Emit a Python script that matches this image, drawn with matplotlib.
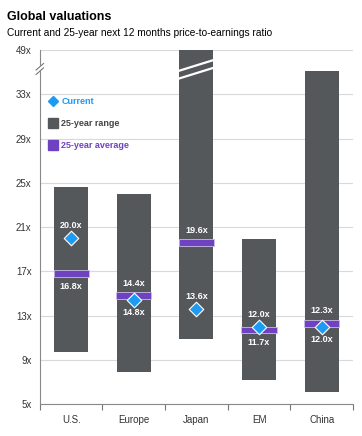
import matplotlib.pyplot as plt
from matplotlib.lines import Line2D

plt.rcParams['font.family'] = ['Liberation Sans', 'DejaVu Sans']

# data
regions = ['U.S.', 'Europe', 'Japan', 'EM', 'China']
range_low = [9.7, 7.9, 10.9, 7.2, 6.1]
range_high = [24.6, 24.0, 49.0, 19.9, 35.1]
current = [20.0, 14.4, 13.6, 12.0, 12.0]
average = [16.8, 14.8, 19.6, 11.7, 12.3]
ytick_vals = [5, 9, 13, 17, 21, 25, 29, 33, 37]
ytick_labels = ['5x', '9x', '13x', '17x', '21x', '25x', '29x', '33x', '49x']

# label side for each value label (+1 above, -1 below)
current_side = [1, 1, 1, 1, -1]
average_side = [-1, -1, 1, -1, 1]

bar_c = '#55585b'
purple = '#6e42c0'
blue = '#1b9bf3'

fig = plt.figure(figsize=(3.62, 4.36), dpi=100)
ax = fig.add_axes([0.110, 0.0734, 0.865, 0.8115])

x = list(range(len(regions)))
w = 0.54
heights = [h - l for h, l in zip(range_high, range_low)]
ax.bar(x, heights, bottom=range_low, width=w, color=bar_c, zorder=2)
ax.bar(x, [0.6] * 5, bottom=[a - 0.3 for a in average], width=w + 0.02,
       color=purple, edgecolor='#c9bde6', linewidth=0.6, zorder=3)
ax.scatter(x, current, marker='D', s=55, color=blue, edgecolor='white',
           linewidth=0.8, zorder=4)

lab = dict(textcoords='offset points', ha='center', va='center',
           color='white', fontsize=6.5, fontweight='bold', zorder=5)
for i in x:
    close = abs(current[i] - average[i]) < 3
    for val, side in [(current[i], current_side[i]), (average[i], average_side[i])]:
        if close:
            anchor = max(current[i], average[i]) if side > 0 else min(current[i], average[i])
        else:
            anchor = val
        ax.annotate(f'{val:.1f}x', (i, anchor), xytext=(0, 9 * side), **lab)

# break marks on Japan bar
for dy in [0, 0.7]:
    ax.plot([2 - w / 2, 2 + w / 2], [34.45 + dy, 35.4 + dy], color='white', lw=1.6, zorder=3)

ax.set_xlim(-0.5, 4.5)
ax.set_ylim(5, 37)
ax.set_yticks(ytick_vals)
ax.set_yticklabels(ytick_labels)
ax.set_xticks(x)
ax.set_xticklabels(regions)
ax.set_xticks([i - 0.5 for i in range(6)], minor=True)
ax.tick_params(axis='x', which='major', length=0, pad=8, labelsize=7, colors='#333333')
ax.tick_params(axis='x', which='minor', length=4, color='#777777', width=0.8)
ax.tick_params(axis='y', length=0, labelsize=7, colors='#333333', pad=6)
ax.grid(axis='y', color='#d9d9d9', lw=0.8, zorder=0)
for s in ['top', 'right']:
    ax.spines[s].set_visible(False)
ax.spines['left'].set_color('#888888')
ax.spines['bottom'].set_color('#888888')

# break marks on the axis
ax.plot([-0.56, -0.44], [35.0, 35.6], color='white', lw=3, clip_on=False, zorder=6)
ax.plot([-0.56, -0.44], [34.8, 35.4], color='#666666', lw=0.7, clip_on=False, zorder=7)
ax.plot([-0.56, -0.44], [35.2, 35.8], color='#666666', lw=0.7, clip_on=False, zorder=7)

handles = [
    Line2D([], [], marker='D', ls='', color=blue, markersize=5),
    Line2D([], [], marker='s', ls='', color=bar_c, markersize=7),
    Line2D([], [], marker='s', ls='', color=purple, markersize=7),
]
leg = ax.legend(handles, ['Current', '25-year range', '25-year average'],
                loc='upper left', bbox_to_anchor=(0.0, 0.89), frameon=False,
                labelspacing=1.45, handletextpad=0.3, handlelength=1.2,
                prop={'weight': 'bold', 'size': 6.5})
for t, c in zip(leg.get_texts(), [blue, '#444444', purple]):
    t.set_color(c)

fig.text(0.02, 0.962, 'Global valuations', fontsize=9, fontweight='bold', va='center')
fig.text(0.02, 0.925, 'Current and 25-year next 12 months price-to-earnings ratio',
         fontsize=7.3, va='center')

fig.savefig('out.png', dpi=100)
